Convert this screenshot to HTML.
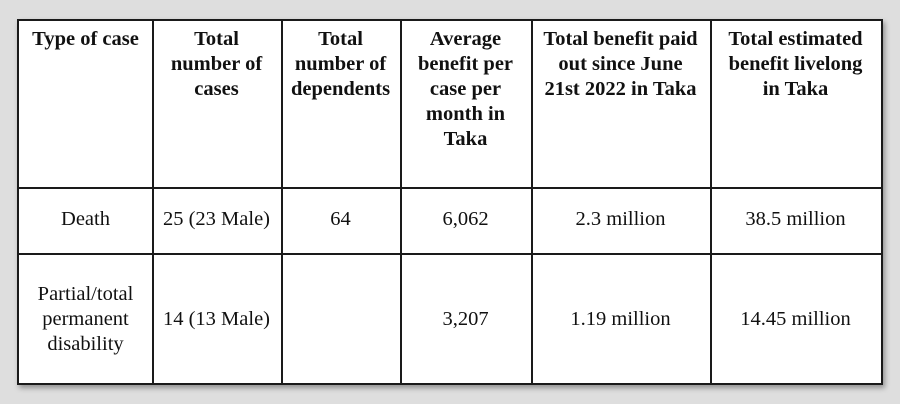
<!DOCTYPE html>
<html><head><style>
body{margin:0;width:900px;height:404px;background:#dedede;position:relative;overflow:hidden;font-family:"Liberation Serif",serif;color:#111}
.t{position:absolute;left:17px;top:19px;width:866px;height:366px;box-sizing:border-box;background:#fff;border:2px solid #1a1a1a;box-shadow:2px 3px 5px rgba(0,0,0,.35)}
.v{position:absolute;top:0;height:362px;border-left:2px solid #1a1a1a}
.h{position:absolute;left:0;width:862px;border-top:2px solid #1a1a1a}
.c{position:absolute;text-align:center;font-size:20.5px;line-height:25px}
.b{font-weight:bold}
</style></head><body>
<div class="t">
<div class="v" style="left:133px"></div>
<div class="v" style="left:262px"></div>
<div class="v" style="left:381px"></div>
<div class="v" style="left:512px"></div>
<div class="v" style="left:691px"></div>
<div class="h" style="top:166px"></div>
<div class="h" style="top:232px"></div>

<div class="c b" style="left:0;width:133px;top:6px">Type of case</div>
<div class="c b" style="left:133px;width:129px;top:6px">Total<br>number of<br>cases</div>
<div class="c b" style="left:262px;width:119px;top:6px">Total<br>number of<br>dependents</div>
<div class="c b" style="left:381px;width:131px;top:6px">Average<br>benefit per<br>case per<br>month in<br>Taka</div>
<div class="c b" style="left:512px;width:179px;top:6px">Total benefit paid<br>out since June<br>21st 2022 in Taka</div>
<div class="c b" style="left:691px;width:171px;top:6px">Total estimated<br>benefit livelong<br>in Taka</div>

<div class="c" style="left:0;width:133px;top:186px">Death</div>
<div class="c" style="left:133px;width:129px;top:186px">25 (23 Male)</div>
<div class="c" style="left:262px;width:119px;top:186px">64</div>
<div class="c" style="left:381px;width:131px;top:186px">6,062</div>
<div class="c" style="left:512px;width:179px;top:186px">2.3 million</div>
<div class="c" style="left:691px;width:171px;top:186px">38.5 million</div>

<div class="c" style="left:0;width:133px;top:261px">Partial/total<br>permanent<br>disability</div>
<div class="c" style="left:133px;width:129px;top:286px">14 (13 Male)</div>
<div class="c" style="left:381px;width:131px;top:286px">3,207</div>
<div class="c" style="left:512px;width:179px;top:286px">1.19 million</div>
<div class="c" style="left:691px;width:171px;top:286px">14.45 million</div>
</div>
</body></html>
